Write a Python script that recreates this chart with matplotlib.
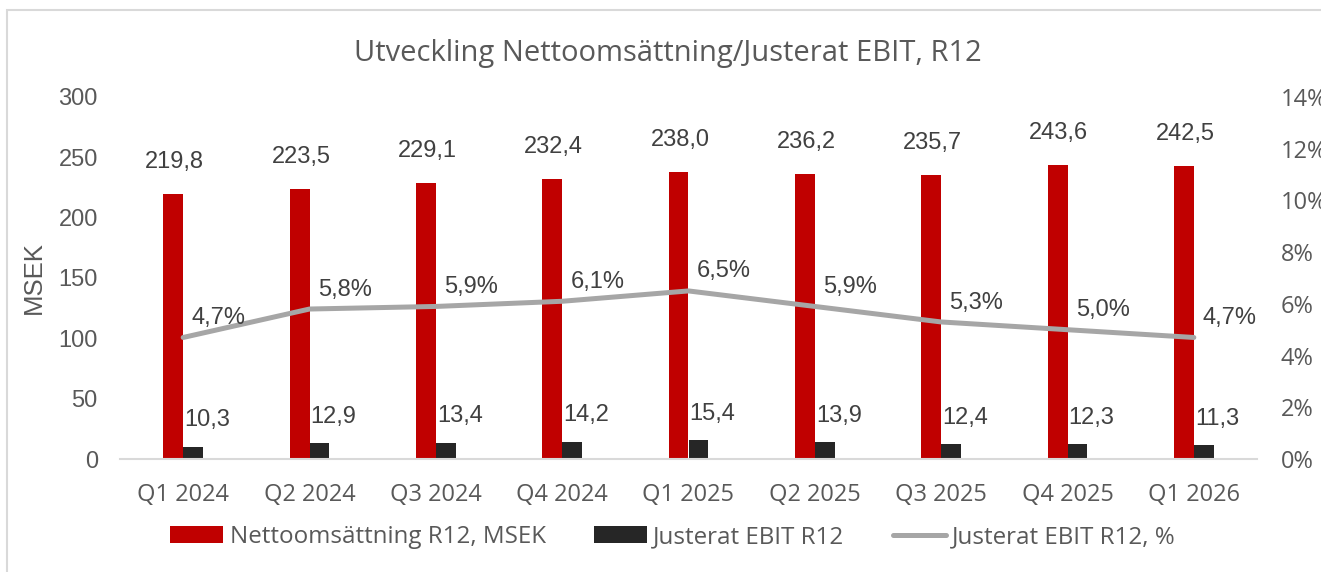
import matplotlib
matplotlib.use("Agg")
import matplotlib.pyplot as plt
from matplotlib.patches import Patch, Rectangle
from matplotlib.lines import Line2D
import numpy as np

categories = ["Q1 2024", "Q2 2024", "Q3 2024", "Q4 2024", "Q1 2025",
              "Q2 2025", "Q3 2025", "Q4 2025", "Q1 2026"]
nettoomsattning = [219.8, 223.5, 229.1, 232.4, 238.0, 236.2, 235.7, 243.6, 242.5]
justerat_ebit = [10.3, 12.9, 13.4, 14.2, 15.4, 13.9, 12.4, 12.3, 11.3]
ebit_pct = [4.7, 5.8, 5.9, 6.1, 6.5, 5.9, 5.3, 5.0, 4.7]
left_ticks = [0, 50, 100, 150, 200, 250, 300]
right_ticks = [0, 2, 4, 6, 8, 10, 12, 14]

title = "Utveckling Nettoomsättning/Justerat EBIT, R12"
legend_labels = ["Nettoomsättning R12, MSEK", "Justerat EBIT R12", "Justerat EBIT R12, %"]

RED = "#C00000"
BLACK = "#262626"
GRAY = "#A6A6A6"
TXT = "#595959"
LBL = "#404040"
AXLINE = "#D9D9D9"
OPEN = ["Open Sans", "DejaVu Sans"]
ARIAL = ["Liberation Sans", "DejaVu Sans"]

W, H = 1321, 572
fig = plt.figure(figsize=(W / 100, H / 100), dpi=100)
ax = fig.add_axes([120 / W, (H - 459) / H, (1257 - 120) / W, 362 / H])
ax2 = ax.twinx()

x = np.arange(len(categories))
bw = 0.158
ax.bar(x - bw / 2, nettoomsattning, width=bw, color=RED, zorder=2)
ax.bar(x + bw / 2, justerat_ebit, width=bw, color=BLACK, zorder=2)
ax2.plot(x, ebit_pct, color=GRAY, lw=3.6, solid_capstyle="round", zorder=3)

ax.set_xlim(-0.5, len(categories) - 0.5)
ax.set_ylim(0, 300)
ax2.set_ylim(0, 14)
ax.set_yticks(left_ticks)
ax.set_yticklabels([str(t) for t in left_ticks], family=ARIAL, fontsize=17, color=TXT)
ax2.set_yticks(right_ticks)
ax2.set_yticklabels([f"{t}%" for t in right_ticks], family=OPEN, fontsize=17, color=TXT)
ax.set_xticks(x)
ax.set_xticklabels(categories, family=OPEN, fontsize=17, color=TXT)
ax.tick_params(axis="y", length=0, pad=16)
ax2.tick_params(axis="y", length=0, pad=17)
ax.tick_params(axis="x", length=0, pad=17)
for a in (ax, ax2):
    for s in ("top", "right", "left"):
        a.spines[s].set_visible(False)
    a.spines["bottom"].set_color(AXLINE)
    a.spines["bottom"].set_linewidth(1.5)
ax2.spines["bottom"].set_visible(False)
ax.set_ylabel("MSEK", family=ARIAL, fontsize=18.5, color=TXT, labelpad=9)

# data labels
for xi, v in zip(x, nettoomsattning):
    ax.annotate(f"{v:.1f}".replace(".", ","), (xi - bw / 2, v), xytext=(1, 23),
                textcoords="offset points", ha="center", va="center",
                family=ARIAL, fontsize=17, color=LBL, zorder=5)
for xi, v in zip(x, justerat_ebit):
    ax.annotate(f"{v:.1f}".replace(".", ","), (xi + bw / 2, v), xytext=(10, 19),
                textcoords="offset points", ha="center", va="center",
                family=ARIAL, fontsize=17, color=LBL, zorder=5)
for xi, v in zip(x, ebit_pct):
    ax2.annotate(f"{v:.1f}%".replace(".", ","), (xi, v), xytext=(6, 14),
                 textcoords="offset points", ha="left", va="center",
                 family=ARIAL, fontsize=17, color=LBL, zorder=5)

fig.text(668 / W, 1 - 53 / H, title, ha="center", va="center",
         family=OPEN, fontsize=21, color=TXT)

handles = [Patch(facecolor=RED), Patch(facecolor=BLACK),
           Line2D([0], [0], color=GRAY, lw=3.6, solid_capstyle="round")]
leg = fig.legend(handles, legend_labels, loc="center", bbox_to_anchor=(673 / W, 35 / H),
                 ncol=3, frameon=False, handlelength=2.2, handleheight=0.65,
                 handletextpad=0.25, columnspacing=2.0,
                 prop={"family": OPEN, "size": 17.4})
for t in leg.get_texts():
    t.set_color(TXT)

fig.patches.append(Rectangle((7 / W, -0.2), 1.5, 1.2 - 10 / H, transform=fig.transFigure,
                             fill=False, edgecolor=AXLINE, lw=1.5, clip_on=False))

fig.savefig("out.png", dpi=100)
